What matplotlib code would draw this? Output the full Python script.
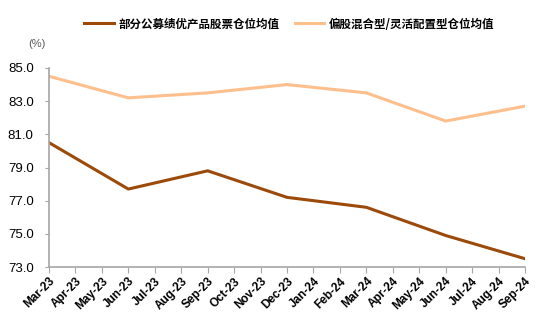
import numpy as np
import matplotlib.pyplot as plt

plt.rcParams['font.family'] = ['Liberation Sans', 'Noto Sans CJK SC', 'DejaVu Sans']

months = ['Mar-23', 'Apr-23', 'May-23', 'Jun-23', 'Jul-23', 'Aug-23', 'Sep-23',
          'Oct-23', 'Nov-23', 'Dec-23', 'Jan-24', 'Feb-24', 'Mar-24', 'Apr-24',
          'May-24', 'Jun-24', 'Jul-24', 'Aug-24', 'Sep-24']
quarters = ['Mar-23', 'Jun-23', 'Sep-23', 'Dec-23', 'Mar-24', 'Jun-24', 'Sep-24']
top_funds = [80.5, 77.7, 78.8, 77.2, 76.6, 74.9, 73.5]
mixed_funds = [84.5, 83.2, 83.5, 84.0, 83.5, 81.8, 82.7]

name_top = '部分公募绩优产品股票仓位均值'
name_mixed = '偏股混合型/灵活配置型仓位均值'

fig = plt.figure(figsize=(5.51, 3.35), dpi=100)
ax = fig.add_axes([49 / 551, 1 - 267 / 335, 476 / 551, 199 / 335])

qx = [months.index(q) for q in quarters]
ax.plot(qx, top_funds, color='#9C4A0A', lw=2.2, label=name_top)
ax.plot(qx, mixed_funds, color='#FDBF8C', lw=2.2, label=name_mixed)

ax.set_xlim(0, len(months) - 1)
ax.set_ylim(73, 85)
ax.set_yticks(np.arange(73, 85.1, 2))
ax.set_yticklabels([f'{v:.1f}' for v in np.arange(73, 85.1, 2)], fontsize=9.5)
ax.set_xticks(range(len(months)))
ax.set_xticklabels(months, rotation=45, ha='right', rotation_mode='anchor', fontsize=8.5,
                   fontweight='bold')

for s in ['top', 'right']:
    ax.spines[s].set_visible(False)
for s in ['left', 'bottom']:
    ax.spines[s].set_color('#A6A6A6')
    ax.spines[s].set_linewidth(1.2)
ax.tick_params(axis='x', length=4, color='#A6A6A6', pad=2)
ax.tick_params(axis='y', length=3, color='#A6A6A6', pad=8)

fig.text(37 / 551, 1 - 44 / 335, '(%)', fontsize=8, color='#595959', ha='center', va='center')

fig.legend(loc='center', bbox_to_anchor=(0.525, 1 - 24 / 335), ncol=2, frameon=False,
           prop={'family': ['Noto Sans CJK SC'], 'weight': 'bold', 'size': 8.3},
           handlelength=2.6, columnspacing=1.3, handletextpad=0.4)

fig.savefig('out.png', dpi=100)
